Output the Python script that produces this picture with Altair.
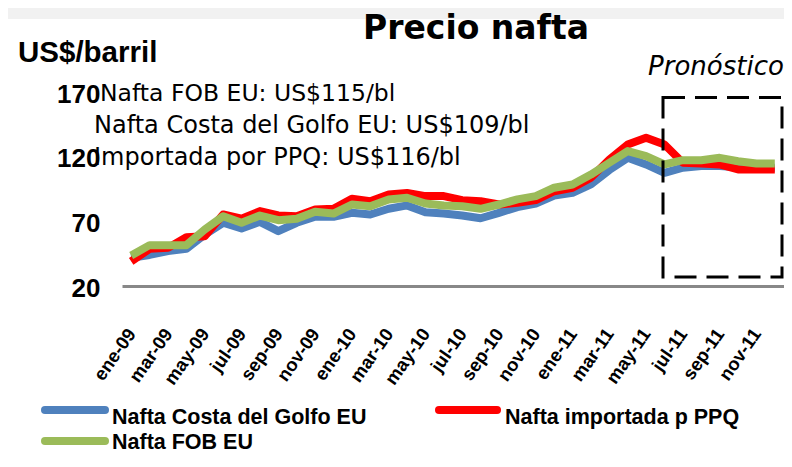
import altair as alt
import pandas as pd

months = ["ene", "feb", "mar", "abr", "may", "jun", "jul", "ago", "sep", "oct", "nov", "dic"]
years = ["09", "10", "11"]
categories = [f"{m}-{y}" for y in years for m in months]
label_values = [c for i, c in enumerate(categories) if i % 2 == 0]

series_names = ["Nafta Costa del Golfo EU", "Nafta importada p PPQ", "Nafta FOB EU"]
series_colors = ["#4F81BD", "#FF0000", "#9BBB59"]

costa_golfo = [41.8, 44, 47, 48.8, 59.8, 68.9, 64.5, 69.6, 62.4, 68.9, 73.5, 73.5,
               76.6, 75.3, 79.7, 82.3, 77, 76, 74.5, 72.4, 76.6, 81, 83.8, 90,
               92, 98.5, 109.7, 119.1, 114, 107.5, 111.5, 112.8, 112.8, 111.9, 111.5, 111.5]
importada_ppq = [39, 48.7, 49.5, 57.7, 58.5, 75.3, 72, 77.9, 74.5, 74, 79.2, 79.7,
                 87.4, 85.6, 90.8, 92, 89.5, 89.5, 86.4, 85.6, 83, 84.3, 86.4, 93.3,
                 96, 103.7, 117.8, 129.4, 134.6, 129.4, 115.3, 114.8, 114, 110.1, 110.1, 110.1]
fob_eu = [43.6, 51.6, 51.6, 51.6, 63.7, 74, 68.9, 74.5, 70.9, 72, 77.4, 76,
          83, 81.7, 86.9, 88.2, 83.8, 82.3, 81.7, 79.7, 83, 87, 89.5, 96,
          98.5, 106.2, 115.3, 124.3, 120.4, 114, 117.3, 117.3, 119.1, 116.5, 114.7, 114.7]

y_ticks = [20, 70, 120, 170]

title_text = "Precio nafta"
y_title_text = "US$/barril"
forecast_text = "Pronóstico"
note_lines = ["Nafta FOB EU: US$115/bl",
              "Nafta Costa del Golfo EU: US$109/bl",
              "Importada por PPQ: US$116/bl"]

rows = []
for name, vals in zip(series_names, [costa_golfo, importada_ppq, fob_eu]):
    for c, v in zip(categories, vals):
        rows.append({"mes": c, "serie": name, "valor": v})
df = pd.DataFrame(rows)

W, H = 662, 194

color_scale = alt.Scale(domain=series_names, range=series_colors)
color = alt.Color("serie:N", scale=color_scale, legend=None)

xenc = alt.X("mes:O", sort=categories, title=None,
             scale=alt.Scale(domain=categories),
             axis=alt.Axis(values=label_values, labelAngle=-55, labelAlign="right",
                           labelBaseline="middle", labelFont="Liberation Sans",
                           labelFontWeight="bold", labelFontSize=18.5, labelColor="black",
                           labelPadding=44, labelOffset=0, ticks=False, grid=False,
                           domainColor="#888888", domainWidth=3))
yenc = alt.Y("valor:Q", title=None,
             scale=alt.Scale(domain=[20, 170], nice=False, zero=False),
             axis=alt.Axis(values=y_ticks, domain=False, ticks=False, grid=False,
                           labelFont="Liberation Sans", labelFontWeight="bold",
                           labelFontSize=26, labelColor="black", labelPadding=22,
                           labelOffset=2, zindex=1))

band = alt.Chart(pd.DataFrame({"k": [0]})).mark_rect(fill="#f1f1f1").encode(
    x=alt.value(-114), x2=alt.value(662), y=alt.value(-84), y2=alt.value(-73))

base = alt.Chart(df)
layers = []
for name in series_names:
    layers.append(base.transform_filter(alt.datum.serie == name)
                  .mark_line(strokeWidth=8, strokeJoin="round")
                  .encode(x=xenc, y=yenc, color=color))

# legend drawn by hand (symbol x-range, symbol y, label x, label baseline y)
legend_slots = [(-77, -17, 318, -10, 332),
                (317, 375, 318, 383, 332),
                (-77, -17, 349, -10, 357)]
legend_layers = []
for name, (sx1, sx2, sy, tx, ty) in zip(series_names, legend_slots):
    ld = pd.DataFrame({"serie": [name]})
    legend_layers.append(alt.Chart(ld).mark_rule(strokeWidth=8, strokeCap="round").encode(
        x=alt.value(sx1), x2=alt.value(sx2), y=alt.value(sy), color=color))
    legend_layers.append(alt.Chart(ld).mark_text(
        font="Liberation Sans", fontWeight="bold", fontSize=21.5, align="left",
        baseline="alphabetic", color="black").encode(
        text="serie:N", x=alt.value(tx), y=alt.value(ty)))

box = alt.Chart(pd.DataFrame({"k": [0]})).mark_rect(
    fill=None, fillOpacity=0, stroke="black", strokeWidth=3, strokeDash=[22, 10]
).encode(x=alt.value(541), x2=alt.value(660), y=alt.value(5.5), y2=alt.value(185))

def txt(s, x, y, **kw):
    return alt.Chart(pd.DataFrame({"t": [s]})).mark_text(**kw).encode(
        text="t:N", x=alt.value(x), y=alt.value(y))

texts = [
    txt(title_text, 354, -53, font="DejaVu Sans", fontWeight="bold", fontSize=33,
        align="center", baseline="alphabetic", color="black"),
    txt(y_title_text, -104, -30, font="Liberation Sans", fontWeight="bold",
        fontSize=29.5, align="left", baseline="alphabetic", color="black"),
    txt(forecast_text, 594, -17, font="DejaVu Sans", fontStyle="italic", fontSize=26,
        align="center", baseline="alphabetic", color="black"),
    txt(note_lines[0], -22, 9, font="DejaVu Sans", fontSize=23.5, align="left",
        baseline="alphabetic", color="black"),
    txt(note_lines[1], -28, 41, font="DejaVu Sans", fontSize=24, align="left",
        baseline="alphabetic", color="black"),
    txt(note_lines[2], -28, 73, font="DejaVu Sans", fontSize=24, align="left",
        baseline="alphabetic", color="black"),
]

chart = alt.layer(band, *layers, box, *legend_layers, *texts).properties(
    width=W, height=H,
    autosize=alt.AutoSizeParams(type="none"),
    padding={"left": 114, "top": 84, "right": 0, "bottom": 167},
    background="white",
).configure_view(stroke=None)

chart.save("out.html", embed_options={"renderer": "svg", "actions": False})
